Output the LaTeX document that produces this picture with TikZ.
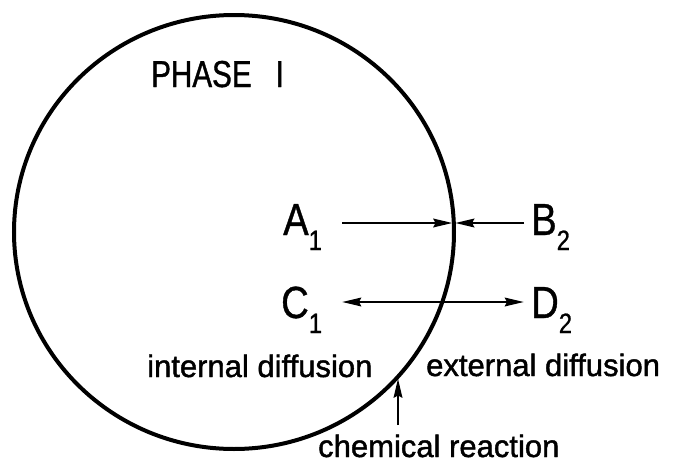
\documentclass[tikz,border=0pt]{standalone}
\usepackage{fontspec}
\setmainfont{Liberation Sans}
\newfontfamily\capfont[FakeStretch=0.85,FakeBold=0.8]{Liberation Sans}
\newfontfamily\phasefont[FakeStretch=0.79,FakeBold=1]{Liberation Sans}
\newfontfamily\lowfont[FakeBold=1.4]{Liberation Sans}
\usetikzlibrary{arrows.meta}
\newcommand\lsub[1]{\raisebox{-15pt}{\fontsize{28}{28}\selectfont #1}}
\begin{document}
\begin{tikzpicture}[x=1pt,y=-1pt,
  lbl/.style={anchor=base west,inner sep=0pt,font=\capfont\fontsize{45}{45}\selectfont},
  txt/.style={anchor=base west,inner sep=0pt,font=\lowfont\fontsize{31}{31}\selectfont},
  arr/.style={line width=2.8pt,-{Stealth[length=19pt,width=8.5pt,inset=2pt]}},
  darr/.style={line width=2.8pt,{Stealth[length=19pt,width=8.5pt,inset=2pt]}-{Stealth[length=19pt,width=8.5pt,inset=2pt]}},
  phaseline/.style={line width=4pt}]
\useasboundingbox[fill=white] (0,0) rectangle (673,464);
\draw[phaseline] (234,232) ellipse [x radius=220, y radius=217];
\node[anchor=base west,inner sep=0pt,font=\phasefont\fontsize{37.5}{37.5}\selectfont] (phase) at (151,87) {PHASE\hspace{24pt}I};
\node[lbl] (A) at (283,235) {A\lsub{1}};
\node[lbl] (B) at (531,235) {B\lsub{2}};
\node[lbl] (C) at (281,318) {C\lsub{1}};
\node[lbl] (D) at (531,318) {D\lsub{2}};
\node[txt] (int) at (147,377) {internal diffusion};
\node[txt] (ext) at (426,376) {external diffusion};
\node[txt] (chem) at (318,457) {chemical reaction};
\coordinate (a0) at (342,223);
\coordinate (ia) at (453.8,223);
\coordinate (b0) at (524,223);
\coordinate (c0) at (342,302);
\coordinate (d0) at (524,302);
\coordinate (r0) at (398,425);
\coordinate (ir) at (398,377.5);
\draw[arr,shorten >=1.3pt] (a0) -- (ia);
\draw[arr,shorten >=1.3pt] (b0) -- (ia);
\draw[darr] (c0) -- (d0);
\draw[arr,shorten >=1pt] (r0) -- (ir);
\end{tikzpicture}
\end{document}
